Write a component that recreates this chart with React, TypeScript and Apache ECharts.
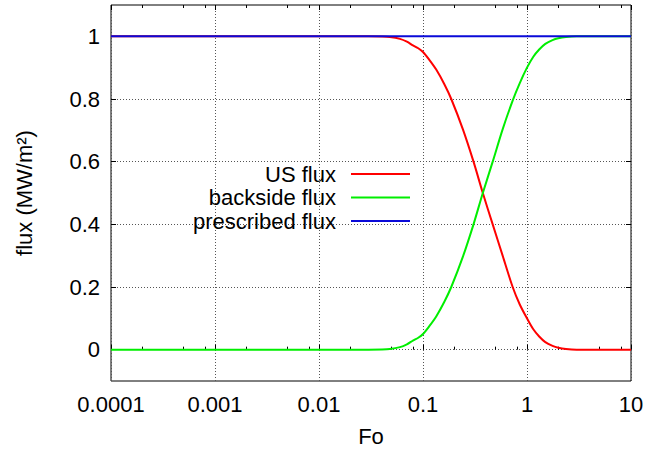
import React, { useEffect, useRef } from "react";
import * as echarts from "echarts";

const FO = [0.0001, 0.001, 0.01, 0.03, 0.04, 0.048, 0.06, 0.07, 0.08, 0.09, 0.1, 0.115, 0.134, 0.16, 0.187, 0.242, 0.306, 0.376, 0.468, 0.583, 0.728, 0.85, 1, 1.15, 1.31, 1.5, 1.76, 2.0, 2.37, 3, 5, 10];
const US_FLUX = [1, 1, 1, 1, 0.9995, 0.998, 0.992, 0.983, 0.971, 0.962, 0.95, 0.925, 0.894, 0.848, 0.8, 0.703, 0.6, 0.5, 0.4, 0.3, 0.2, 0.145, 0.1, 0.065, 0.042, 0.024, 0.012, 0.006, 0.002, 0, 0, 0];
const BACKSIDE_FLUX = [0, 0, 0, 0, 0.0005, 0.002, 0.008, 0.017, 0.029, 0.038, 0.05, 0.075, 0.106, 0.152, 0.2, 0.297, 0.4, 0.5, 0.6, 0.703, 0.795, 0.85, 0.9, 0.935, 0.958, 0.976, 0.988, 0.994, 0.998, 1, 1, 1];
const PRESCRIBED_FO = [0.0001, 10];
const PRESCRIBED_FLUX = [1, 1];

const X_TICKS = [0.0001, 0.001, 0.01, 0.1, 1, 10];
const X_TICK_LABELS = ["0.0001", "0.001", "0.01", "0.1", "1", "10"];
const X_MINOR_TICKS = [
  0.0002, 0.0005, 0.0008, 0.002, 0.005, 0.008, 0.02, 0.05, 0.08, 0.2, 0.5, 0.8, 2, 5, 8,
];
const Y_TICKS = [0, 0.2, 0.4, 0.6, 0.8, 1];
const Y_TICK_LABELS = ["0", "0.2", "0.4", "0.6", "0.8", "1"];

const FONT = "Liberation Sans";

export default function App() {
  const ref = useRef<HTMLDivElement>(null);
  useEffect(() => {
    if (!ref.current) return;
    const chart = echarts.init(ref.current, undefined, { renderer: "svg" });
    const gridLine = { show: true, lineStyle: { color: "#555", type: [1, 2] as any, width: 1 } };
    const baseX = {
      type: "log" as const,
      logBase: 10,
      min: 0.0001,
      max: 10,
      axisLine: { show: false },
    };
    const xLabel = (v: number) => {
      const i = X_TICKS.findIndex((t) => Math.abs(Math.log10(t) - Math.log10(v)) < 1e-6);
      return i >= 0 ? X_TICK_LABELS[i] : "";
    };
    const yLabel = (v: number) => {
      const i = Y_TICKS.findIndex((t) => Math.abs(t - v) < 1e-6);
      return i >= 0 ? Y_TICK_LABELS[i] : "";
    };
    chart.setOption({
      animation: false,
      backgroundColor: "#fff",
      textStyle: { fontFamily: FONT },
      grid: {
        left: 111,
        right: 16,
        top: 5,
        bottom: 73,
        show: true,
        borderColor: "#000",
        borderWidth: 1,
        backgroundColor: "transparent",
      },
      legend: {
        orient: "vertical",
        align: "right",
        right: 237,
        top: 163,
        padding: 0,
        itemGap: 1.5,
        itemWidth: 59,
        itemHeight: 2,
        icon: "rect",
        textStyle: { fontFamily: FONT, fontSize: 22, color: "#000", lineHeight: 21, padding: [0, 10, 0, 0] },
        data: ["US flux", "backside flux", "prescribed flux"],
      },
      xAxis: [
        {
          ...baseX,
          position: "bottom",
          name: "Fo",
          nameLocation: "middle",
          nameGap: 44,
          nameTextStyle: { fontFamily: FONT, fontSize: 22, color: "#000" },
          axisTick: { show: true, inside: true, length: 5, customValues: X_TICKS, lineStyle: { color: "#000" } },
          axisLabel: {
            show: true,
            customValues: X_TICKS,
            margin: 12,
            fontFamily: FONT,
            fontSize: 22,
            color: "#000",
            formatter: xLabel,
          },
          splitLine: gridLine,
        },
        {
          ...baseX,
          position: "bottom",
          axisTick: { show: true, inside: true, length: 3, customValues: X_MINOR_TICKS, lineStyle: { color: "#000" } },
          axisLabel: { show: false },
          splitLine: { show: false },
        },
        {
          ...baseX,
          position: "top",
          axisTick: { show: true, inside: true, length: 5, customValues: X_TICKS, lineStyle: { color: "#000" } },
          axisLabel: { show: false },
          splitLine: { show: false },
        },
        {
          ...baseX,
          position: "top",
          axisTick: { show: true, inside: true, length: 3, customValues: X_MINOR_TICKS, lineStyle: { color: "#000" } },
          axisLabel: { show: false },
          splitLine: { show: false },
        },
      ],
      yAxis: [
        {
          type: "value",
          min: -0.1,
          max: 1.1,
          position: "left",
          name: "flux (MW/m²)",
          nameLocation: "middle",
          nameGap: 76,
          nameTextStyle: { fontFamily: FONT, fontSize: 22, color: "#000" },
          axisLine: { show: false },
          axisTick: { show: true, inside: true, length: 5, customValues: Y_TICKS, lineStyle: { color: "#000" } },
          axisLabel: {
            show: true,
            customValues: Y_TICKS,
            margin: 11,
            fontFamily: FONT,
            fontSize: 22,
            color: "#000",
            formatter: yLabel,
          },
          splitLine: gridLine,
        },
        {
          type: "value",
          min: -0.1,
          max: 1.1,
          position: "right",
          axisLine: { show: false },
          axisTick: { show: true, inside: true, length: 5, customValues: Y_TICKS, lineStyle: { color: "#000" } },
          axisLabel: { show: false },
          splitLine: { show: false },
        },
      ],
      series: [
        {
          name: "US flux",
          type: "line",
          xAxisIndex: 0,
          yAxisIndex: 0,
          data: FO.map((x, i) => [x, US_FLUX[i]]),
          showSymbol: false,
          smooth: 0.3,
          color: "#ff0000",
          lineStyle: { color: "#ff0000", width: 2 },
        },
        {
          name: "backside flux",
          type: "line",
          xAxisIndex: 0,
          yAxisIndex: 0,
          data: FO.map((x, i) => [x, BACKSIDE_FLUX[i]]),
          showSymbol: false,
          smooth: 0.3,
          color: "#00ee00",
          lineStyle: { color: "#00ee00", width: 2 },
        },
        {
          name: "prescribed flux",
          type: "line",
          xAxisIndex: 0,
          yAxisIndex: 0,
          data: PRESCRIBED_FO.map((x, i) => [x, PRESCRIBED_FLUX[i]]),
          showSymbol: false,
          color: "#0a0ad8",
          lineStyle: { color: "#0a0ad8", width: 2 },
        },
      ],
    });
    return () => chart.dispose();
  }, []);
  return (
    <div
      ref={ref}
      style={{ position: "fixed", left: 0, top: 0, width: 647, height: 454, background: "#fff" }}
    />
  );
}
